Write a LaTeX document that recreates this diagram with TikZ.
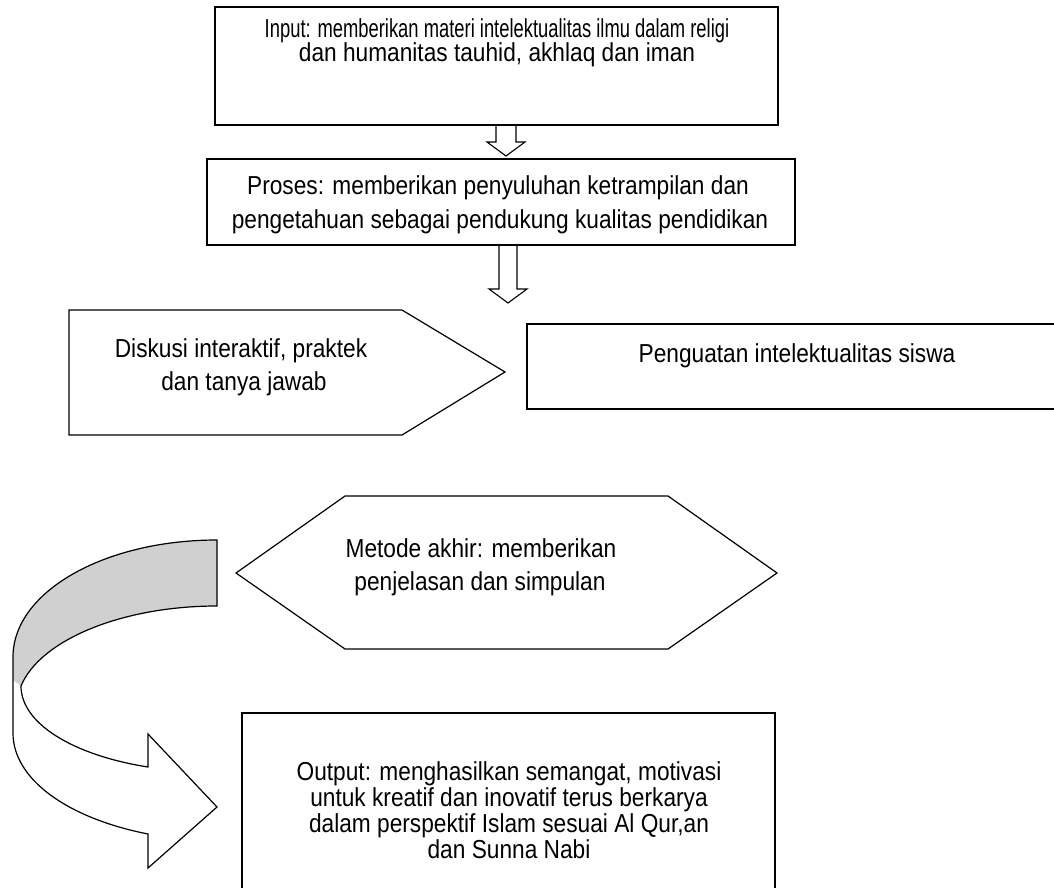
\documentclass[tikz,border=0pt]{standalone}
\usepackage{fontspec}
\setmainfont{Liberation Sans}[FakeStretch=0.873]
\newfontfamily\narrowfont{Liberation Sans}[FakeStretch=0.707]
\usetikzlibrary{calc}
\definecolor{ribbongrey}{RGB}{208,208,208}
\begin{document}
\begin{tikzpicture}[x=1pt,y=-1pt,line width=1.2pt,
  box/.style={draw=black,fill=white,inner sep=0pt},
  txt/.style={anchor=base,inner sep=0pt,font=\fontsize{26}{30}\selectfont},
  ntxt/.style={anchor=base,inner sep=0pt,font=\narrowfont\fontsize{26}{30}\selectfont},
  blockarrow/.style={draw=black,fill=white,line width=1.1pt,line join=miter}]
\useasboundingbox (0,0) rectangle (1054,888);
\fill[white] (0,0) rectangle (1054,888);

% block arrows
\draw[blockarrow] (496,125) -- (496,142) -- (487,142) -- (506,156) -- (525,142) -- (516,142) -- (516,125);
\draw[blockarrow] (499,245) -- (499,289) -- (489,289) -- (508,303) -- (527,289) -- (517,289) -- (517,245);

% boxes
\node[box,minimum width=563pt,minimum height=118pt] (in) at (496.5,66) {};
\node[box,minimum width=588pt,minimum height=86pt] (pro) at (501,202) {};
\node[box,minimum width=535pt,minimum height=85pt] (pen) at (794.5,366.5) {};
\node[box,minimum width=533pt,minimum height=192pt] (out) at (508.5,809) {};

% pentagon
\draw[fill=white] (69,310) -- (402,310) -- (505,372) -- (402,435) -- (69,435) -- cycle;
% hexagon
\draw[fill=white] (236,573) -- (345,496) -- (668,496) -- (777,573) -- (668,649) -- (345,649) -- cycle;

% curved arrow
\fill[white] (217,540) .. controls (104,540) and (13,592) .. (13,657) -- (13,733)
  .. controls (13,779) and (67,818) .. (148,834) -- (148,868) -- (217,807) -- (148,734) -- (148,767)
  .. controls (72,755) and (21,723) .. (21,686)
  .. controls (40,640) and (122,606) .. (217,606) -- cycle;
\fill[ribbongrey] (217,540) .. controls (104,540) and (13,592) .. (13,657) -- (13,680) -- (21,686)
  .. controls (40,640) and (122,606) .. (217,606) -- cycle;
\draw[line join=miter] (217,540) .. controls (104,540) and (13,592) .. (13,657) -- (13,733)
  .. controls (13,779) and (67,818) .. (148,834) -- (148,868) -- (217,807) -- (148,734) -- (148,767)
  .. controls (72,755) and (21,723) .. (21,686)
  .. controls (40,640) and (122,606) .. (217,606) -- cycle;

% texts
\node[ntxt] (inL1) at (497,38) {Input: memberikan materi intelektualitas ilmu dalam religi};
\node[txt] (inL2) at (497,62) {dan humanitas tauhid, akhlaq dan iman};
\node[txt] (proL1) at (498,194) {Proses: memberikan penyuluhan ketrampilan dan};
\node[txt] (proL2) at (500,228) {pengetahuan sebagai pendukung kualitas pendidikan};
\node[txt] (disL1) at (241,357) {Diskusi interaktif, praktek};
\node[txt] (disL2) at (244,390) {dan tanya jawab};
\node[txt] (penL1) at (797,362) {Penguatan intelektualitas siswa};
\node[txt] (metL1) at (481,557) {Metode akhir: memberikan};
\node[txt] (metL2) at (480,590) {penjelasan dan simpulan};
\node[txt] (outL1) at (509,780) {Output: menghasilkan semangat, motivasi};
\node[txt] (outL2) at (509,806) {untuk kreatif dan inovatif terus berkarya};
\node[txt] (outL3) at (509,832) {dalam perspektif Islam sesuai Al Qur,an};
\node[txt] (outL4) at (509,858) {dan Sunna Nabi};
\end{tikzpicture}
\end{document}
